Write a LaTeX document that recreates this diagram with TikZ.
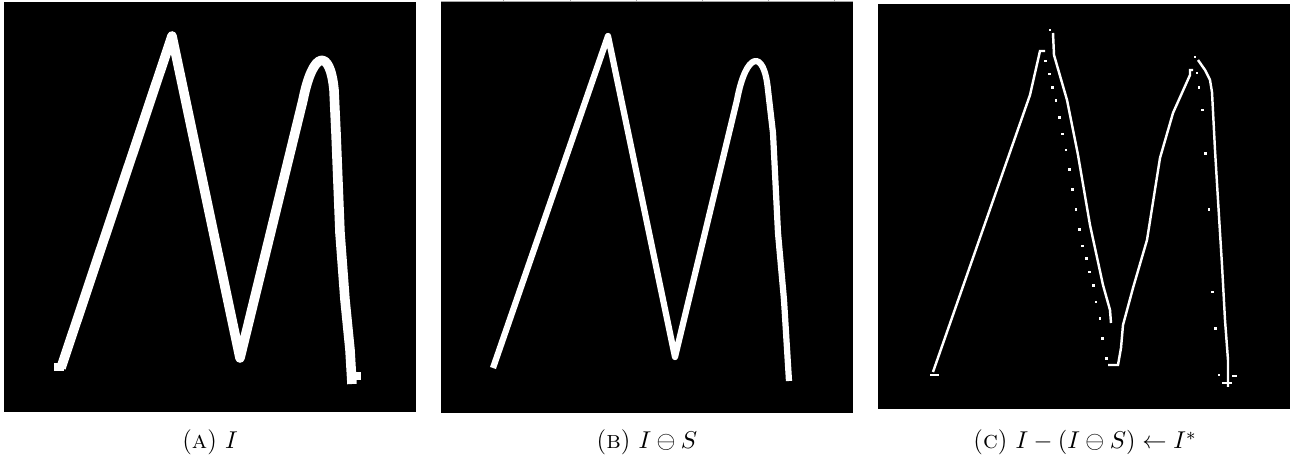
\documentclass[tikz,border=0pt]{standalone}
\usepackage{amsmath,amssymb}
\usetikzlibrary{positioning}

\begin{document}
\begin{tikzpicture}[x=0.45pt,y=-0.45pt,
  panel/.style={fill=black},
  thickm/.style={white,line width=4.3pt,line join=round,line cap=butt},
  thinm/.style={white,line width=2.8pt,line join=round,line cap=butt},
  edge/.style={white,line width=1.1pt,line join=miter},
  dotpix/.style={fill=white},
  caption/.style={anchor=base,font=\fontsize{11.3}{13}\selectfont}]
  \useasboundingbox (0,0) rectangle (1291,456);
  % (a) the image I
  \fill[panel] (4,2) rectangle (416,412);
  \draw[thickm] (61,368) -- (172,36) -- (240,358) -- (303,100)
    .. controls (313,50) and (330,48) .. (334,90) -- (336,133) -- (340,233)
    -- (345,300) -- (350,350) -- (352,384);
  \fill[white] (54,363) rectangle (64,371);
  \fill[white] (347,372) rectangle (361,380);
  \node[caption] (capA) at (210,449) {(\textsc{a})~$I$};
  % (b) erosion I - S
  \fill[panel] (441,2) rectangle (853,413);
  \draw[gray!70,line width=0.4pt] (441,1) -- (853,1);
  \foreach \t in {503,570,636,702,768,834}
    \draw[gray!70,line width=0.4pt] (\t,0) -- (\t,2.5);
  \draw[thinm] (493,368) -- (608,36) -- (675,357) -- (737,100)
    .. controls (746,52) and (764,48) .. (768,90) -- (773,133) -- (778,233)
    -- (784,300) -- (789,381);
  \node[caption] (capB) at (647,449) {(\textsc{b})~$I \ominus S$};
  % (c) boundary I*
  \fill[panel] (878,4) rectangle (1290,409);
  \draw[edge] (930,375) -- (939,375);
  \draw[edge] (933,372) -- (1030,95) -- (1035,73) -- (1040,51) -- (1045,51);
  \draw[edge] (1053,33) -- (1054,55) -- (1067,100) -- (1078,155) -- (1090,225)
    -- (1103,285) -- (1110,310) -- (1111,323);
  \draw[edge] (1108,365) -- (1118,365) -- (1121,348) -- (1123,325)
    -- (1133,288) -- (1147,240) -- (1160,158) -- (1173,113) -- (1190,75)
    -- (1190,70) -- (1193,70);
  \draw[edge] (1198,60) -- (1205,70) -- (1210,80) -- (1212,92) -- (1215,150)
    -- (1218,200) -- (1222,265) -- (1225,320) -- (1228,360) -- (1228,387);
  \draw[edge] (1222,383) -- (1232,383) (1232,376) -- (1237,376);
  \foreach \px/\py in {1050/30,1195/57,
      1045.7/61,1049.3/74,1052.7/87.3,1056/100.7,1059.3/117.3,
      1062.7/134,1066/150,1069.3/169.3,1072.7/189.3,1076/209.3,1079.3/229.3,
      1082.7/246,1086.7/258.7,1089.3/272,1093.3/285.3,1096/302,1100/318.3,
      1102.7/338.3,1106.7/358.3,
      1197/73,1199/87.3,1202.3/110,1205.7/153.3,1209/209.3,1212.3/292,
      1215.7/328.3,1219/375}
    \fill[dotpix] (\px-1.3,\py-1.3) rectangle (\px+1.3,\py+1.3);
  \node[caption] (capC) at (1085,449) {(\textsc{c})~$I - (I \ominus S) \leftarrow I^*$};
\end{tikzpicture}
\end{document}
